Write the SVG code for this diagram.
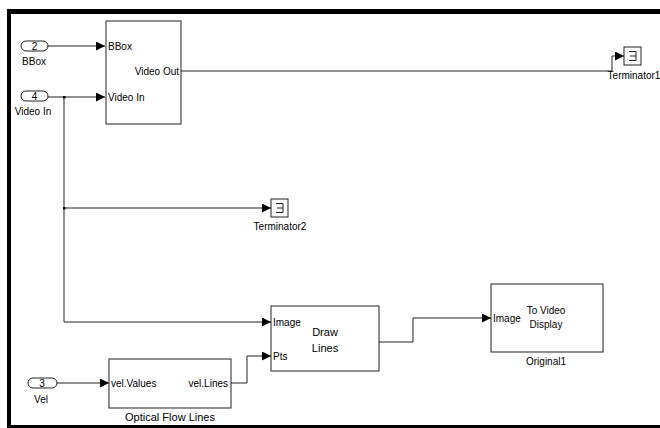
<svg xmlns="http://www.w3.org/2000/svg" width="660" height="428" viewBox="0 0 660 428">
<defs>
<style>
text{font-family:"Liberation Sans",Arial,sans-serif;fill:#000}
.p{font-size:10px}
.l{font-size:10px;text-anchor:middle}
.c{font-size:11px;text-anchor:middle}
.blk{fill:#fff;stroke:#222;stroke-width:1}
.w{fill:none;stroke:#222;stroke-width:1}
</style>
<marker id="a" viewBox="0 0 10 10" refX="10" refY="5" markerWidth="9" markerHeight="9" markerUnits="userSpaceOnUse" orient="auto"><path d="M0,0L10,5L0,10z" fill="#000"/></marker>
</defs>
<rect width="660" height="428" fill="#fff"/>
<g id="frame" fill="#000">
<rect x="7" y="9" width="653" height="5"/>
<rect x="7" y="9" width="4" height="419"/>
<rect x="7" y="425" width="653" height="3"/>
</g>
<g id="connectors">
<path class="w" d="M48,46H105" marker-end="url(#a)"/>
<path class="w" d="M48,97H105" marker-end="url(#a)"/>
<path class="w" d="M64,97V322H271" marker-end="url(#a)"/>
<path class="w" d="M64,208H271" marker-end="url(#a)"/>
<path class="w" d="M181,71H612V56H624" marker-end="url(#a)"/>
<path class="w" d="M57,383H109" marker-end="url(#a)"/>
<path class="w" d="M231,383H247V356H271" marker-end="url(#a)"/>
<path class="w" d="M379,342H413V318H491" marker-end="url(#a)"/>
<rect x="63" y="96" width="2.5" height="2.5" fill="#000"/>
<rect x="63" y="207" width="2.5" height="2.5" fill="#000"/>
</g>
<g id="in2">
<rect class="blk" x="21" y="41" width="27" height="10" rx="5"/>
<text class="l" x="34.5" y="49.5">2</text>
<text class="l" x="34" y="65">BBox</text>
</g>
<g id="in4">
<rect class="blk" x="21" y="91" width="27" height="10" rx="5"/>
<text class="l" x="34.5" y="99.5">4</text>
<text class="l" x="33" y="115">Video In</text>
</g>
<g id="bbox">
<rect class="blk" x="106" y="21" width="75" height="103"/>
<text class="p" x="108" y="50">BBox</text>
<text class="p" x="179" y="75" text-anchor="end">Video Out</text>
<text class="p" x="108" y="101">Video In</text>
</g>
<g id="term1">
<rect class="blk" x="624" y="47" width="17" height="18"/>
<path class="w" d="M629,51.5H636V60.5H629M630,56H636"/>
<text class="l" x="634" y="79">Terminator1</text>
</g>
<g id="term2">
<rect class="blk" x="271" y="199" width="17" height="18"/>
<path class="w" d="M276,203.5H283V212.5H276M277,208H283"/>
<text class="l" x="280" y="230">Terminator2</text>
</g>
<g id="in3">
<rect class="blk" x="28" y="378" width="29" height="10" rx="5"/>
<text class="l" x="42" y="386.5">3</text>
<text class="l" x="41" y="403">Vel</text>
</g>
<g id="oflow">
<rect class="blk" x="109" y="359" width="122" height="49"/>
<text class="p" x="111" y="387">vel.Values</text>
<text class="p" x="228" y="387" text-anchor="end">vel.Lines</text>
<text class="l" x="170" y="421" style="font-size:11px">Optical Flow Lines</text>
</g>
<g id="draw">
<rect class="blk" x="271" y="306" width="108" height="65"/>
<text class="p" x="273" y="326">Image</text>
<text class="p" x="273" y="360">Pts</text>
<text class="c" x="325" y="336">Draw</text>
<text class="c" x="325" y="352">Lines</text>
</g>
<g id="video">
<rect class="blk" x="491" y="284" width="112" height="68"/>
<text class="p" x="493" y="322">Image</text>
<text class="l" x="546" y="314">To Video</text>
<text class="l" x="546" y="328">Display</text>
<text class="l" x="546" y="365">Original1</text>
</g>
</svg>
